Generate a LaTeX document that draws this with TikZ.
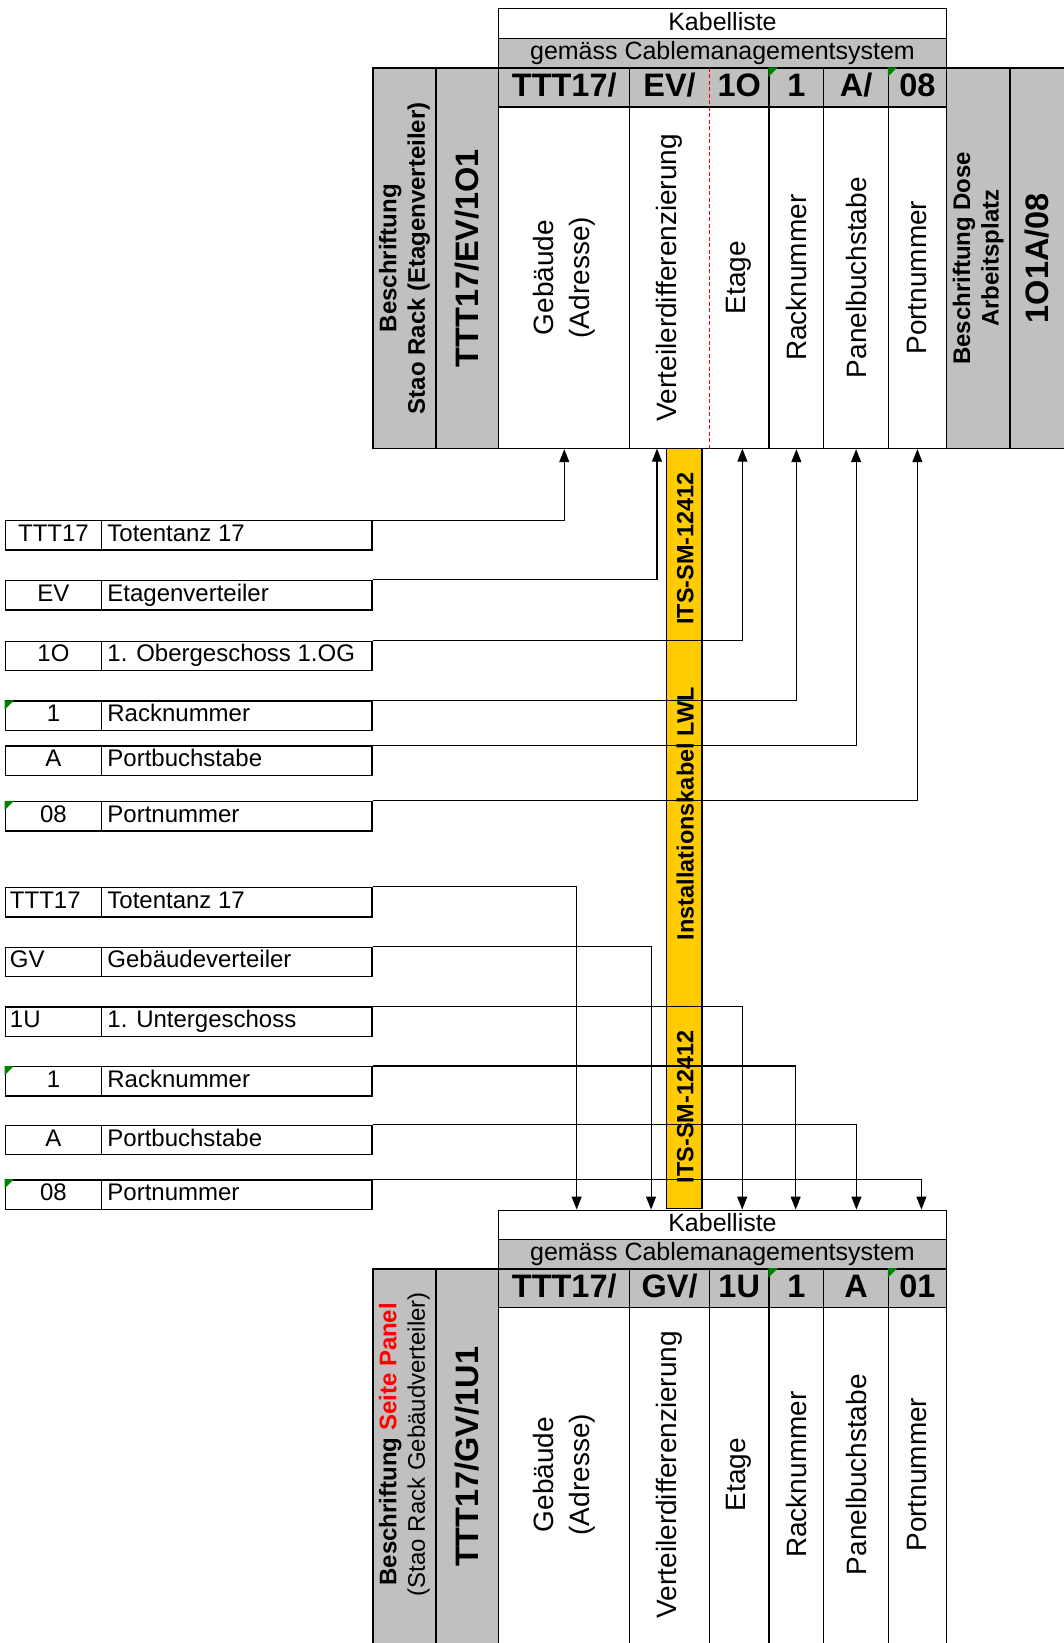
\documentclass[tikz,border=0pt]{standalone}
\usepackage{fontspec}
\setmainfont{Liberation Sans}
\usetikzlibrary{arrows.meta, fit, calc}
\definecolor{cellgray}{HTML}{C0C0C0}
\definecolor{cableyel}{HTML}{FFCC00}
\definecolor{markgreen}{HTML}{008000}
\definecolor{panelred}{HTML}{FF0000}

\newcommand{\cellfont}{\fontsize{24}{28}\selectfont}
\newcommand{\topfont}{\fontsize{25}{28}\selectfont}
\newcommand{\colfont}{\fontsize{28}{36}\selectfont}
\newcommand{\headfont}{\fontsize{32.5}{36}\selectfont\bfseries}
\newcommand{\sidefont}{\fontsize{24}{28.5}\selectfont}
\newcommand{\barfont}{\fontsize{23.5}{26}\selectfont\bfseries}

\tikzset{
  cell/.style={draw=black, line width=1.4pt, inner sep=0pt},
  graycell/.style={cell, fill=cellgray},
  plaincell/.style={fill=cellgray, inner sep=0pt},
  rowtext/.style={inner sep=0pt, font=\cellfont, text height=17pt, text depth=5pt},
  toptext/.style={inner sep=0pt, font=\topfont, text height=18pt, text depth=5pt},
  headtext/.style={inner sep=0pt, font=\headfont, text height=23.5pt, text depth=6pt},
  coltext/.style={rotate=90, align=center, inner sep=0pt, font=\colfont},
  sidetext/.style={rotate=90, align=center, inner sep=0pt, font=\sidefont},
  bigtext/.style={rotate=90, inner sep=0pt, font=\headfont},
  bartext/.style={rotate=90, inner sep=0pt, font=\barfont},
  link/.style={line width=1.1pt, -{Triangle[length=13pt,width=10pt]}},
  greenflag/.style={fill=markgreen}
}

\begin{document}
\begin{tikzpicture}[x=1.0483pt, y=-1.0483pt]
\path[use as bounding box, fill=white] (0,0) rectangle (1015,1568);

% upper cable list
\node[cell, fit={(476,8)(903,37)}] (tKab) {};
\node[toptext] (tKabT) at (tKab) {Kabelliste};
\node[graycell, fit={(476,37)(903,65)}] (tGem) {};
\node[toptext] (tGemT) at (tGem) {gemäss Cablemanagementsystem};
\node[graycell, fit={(356,65)(416,428)}] (tBes) {};
\node[sidetext, font=\sidefont\bfseries] (tBesT) at (tBes) {Beschriftung\\Stao Rack (Etagenverteiler)};
\node[graycell, fit={(416,65)(476,428)}] (tRack) {};
\node[bigtext] (tRackT) at (tRack) {TTT17/EV/1O1};

\node[graycell, fit={(476,65)(601,102)}] (tH1) {};
\node[plaincell, fit={(601,65)(677,102)}] (tH2) {};
\node[plaincell, fit={(677,65)(734,102)}] (tH3) {};
\node[graycell, fit={(734,65)(786,102)}] (tH4) {};
\node[graycell, fit={(786,65)(848,102)}] (tH5) {};
\node[graycell, fit={(848,65)(903,102)}] (tH6) {};

\node[cell, fit={(476,102)(601,428)}] (tB1) {};
\node[inner sep=0pt, fit={(601,102)(677,428)}] (tB2) {};
\node[inner sep=0pt, fit={(677,102)(734,428)}] (tB3) {};
\node[cell, fit={(734,102)(786,428)}] (tB4) {};
\node[cell, fit={(786,102)(848,428)}] (tB5) {};
\node[cell, fit={(848,102)(903,428)}] (tB6) {};
\draw[line width=1.4pt] (tH2.north west) rectangle (tB3.south east);
\draw[line width=1.4pt] (tH2.south west) -- (tH3.south east);
\draw[panelred, line width=1.2pt, dash pattern=on 4pt off 2.5pt] (tH3.north west) -- (tB3.south west);

\node[headtext] (tH1T) at (tH1) {TTT17/};
\node[headtext] (tH2T) at (tH2) {EV/};
\node[headtext] (tH3T) at (tH3) {1O};
\node[headtext] (tH4T) at (tH4) {1};
\node[headtext] (tH5T) at (tH5) {A/};
\node[headtext] (tH6T) at (tH6) {08};

\node[coltext] (tB1T) at (tB1) {Gebäude\\(Adresse)};
\node[coltext] (tB2T) at (tB2) {Verteilerdifferenzierung};
\node[coltext] (tB3T) at (tB3) {Etage};
\node[coltext] (tB4T) at (tB4) {Racknummer};
\node[coltext] (tB5T) at (tB5) {Panelbuchstabe};
\node[coltext] (tB6T) at (tB6) {Portnummer};

\node[graycell, fit={(903,65)(964,428)}] (tDose) {};
\node[sidetext, font=\sidefont\bfseries] (tDoseT) at (tDose) {Beschriftung Dose\\Arbeitsplatz};
\node[graycell, fit={(964,65)(1030,428)}] (tWs) {};
\node[bigtext] (tWsT) at ($(tWs.west)+(26,0)$) {1O1A/08};

\fill[greenflag] (tH4.north west) -- ++(9,0) -- ++(-9,9) -- cycle;
\fill[greenflag] (tH6.north west) -- ++(9,0) -- ++(-9,9) -- cycle;

% lower cable list
\node[cell, fit={(476,1155)(903,1183)}] (bKab) {};
\node[toptext] (bKabT) at (bKab) {Kabelliste};
\node[graycell, fit={(476,1183)(903,1211)}] (bGem) {};
\node[toptext] (bGemT) at (bGem) {gemäss Cablemanagementsystem};
\node[graycell, fit={(356,1211)(416,1580)}] (bBes) {};
\node[sidetext] (bBesT) at ($(bBes.north)+(0,168)$) {\textbf{Beschriftung \textcolor{panelred}{Seite Panel}}\\(Stao Rack Gebäudverteiler)};
\node[graycell, fit={(416,1211)(476,1580)}] (bRack) {};
\node[bigtext] (bRackT) at ($(bRack.north)+(0,180)$) {TTT17/GV/1U1};

\foreach \xa/\xb/\lab [count=\i] in {476/601/{TTT17/}, 601/677/{GV/}, 677/734/1U, 734/786/1, 786/848/A, 848/903/01} {
  \node[graycell, fit={(\xa,1211)(\xb,1248)}] (bH\i) {};
  \node[headtext] (bH\i T) at (bH\i) {\lab};
  \node[cell, fit={(\xa,1248)(\xb,1580)}] (bB\i) {};
}
\node[coltext] (bB1T) at ($(bB1.north)+(0,160)$) {Gebäude\\(Adresse)};
\node[coltext] (bB2T) at ($(bB2.north)+(0,160)$) {Verteilerdifferenzierung};
\node[coltext] (bB3T) at ($(bB3.north)+(0,160)$) {Etage};
\node[coltext] (bB4T) at ($(bB4.north)+(0,160)$) {Racknummer};
\node[coltext] (bB5T) at ($(bB5.north)+(0,160)$) {Panelbuchstabe};
\node[coltext] (bB6T) at ($(bB6.north)+(0,160)$) {Portnummer};

\fill[greenflag] (bH4.north west) -- ++(9,0) -- ++(-9,9) -- cycle;
\fill[greenflag] (bH6.north west) -- ++(9,0) -- ++(-9,9) -- cycle;

% cable
\node[cell, fill=cableyel, line width=1.2pt, fit={(636,428)(670,1153)}] (bar) {};
\node[bartext] (barT1) at ($(bar.north)+(1,96)$) {ITS-SM-12412};
\node[bartext] (barT2) at ($(bar.north)+(1,349)$) {Installationskabel LWL};
\node[bartext] (barT3) at ($(bar.north)+(1,629)$) {ITS-SM-12412};

% upper legend
\foreach \y/\code/\desc [count=\i] in {497/TTT17/Totentanz 17, 554/EV/Etagenverteiler, 612/1O/1. Obergeschoss 1.OG, 669/1/Racknummer, 712/A/Portbuchstabe, 765/08/Portnummer} {
  \node[cell, fit={(5,\y)(97,\y+28)}] (uc\i) {};
  \node[rowtext] (uc\i T) at (uc\i) {\code};
  \node[cell, fit={(97,\y)(355,\y+28)}] (ud\i) {};
  \node[rowtext, anchor=west] (ud\i T) at ($(ud\i.west)+(6,0)$) {\desc};
}
\fill[greenflag] (uc4.north west) -- ++(9,0) -- ++(-9,9) -- cycle;
\fill[greenflag] (uc6.north west) -- ++(9,0) -- ++(-9,9) -- cycle;

% lower legend
\foreach \y/\desc [count=\i] in {847/Totentanz 17, 904/Gebäudeverteiler, 961/1. Untergeschoss, 1018/Racknummer, 1074/Portbuchstabe, 1126/Portnummer} {
  \node[cell, fit={(5,\y)(97,\y+28)}] (lc\i) {};
  \node[cell, fit={(97,\y)(355,\y+28)}] (ld\i) {};
  \node[rowtext, anchor=west] (ld\i T) at ($(ld\i.west)+(6,0)$) {\desc};
}
\node[rowtext, anchor=west] (lc1T) at ($(lc1.west)+(5,0)$) {TTT17};
\node[rowtext, anchor=west] (lc2T) at ($(lc2.west)+(5,0)$) {GV};
\node[rowtext, anchor=west] (lc3T) at ($(lc3.west)+(5,0)$) {1U};
\node[rowtext] (lc4T) at (lc4) {1};
\node[rowtext] (lc5T) at (lc5) {A};
\node[rowtext] (lc6T) at (lc6) {08};
\fill[greenflag] (lc4.north west) -- ++(9,0) -- ++(-9,9) -- cycle;
\fill[greenflag] (lc6.north west) -- ++(9,0) -- ++(-9,9) -- cycle;

% connectors
\draw[link] (ud1.north east) -| (tB1.south);
\draw[link] (ud2.north east) -| ($(tB2.south)+(-12,0)$);
\draw[link] (ud3.north east) -| ($(tB3.south)+(3,0)$);
\draw[link] (ud4.north east) -| (tB4.south);
\draw[link] (ud5.north east) -| (tB5.south);
\draw[link] (ud6.north east) -| (tB6.south);

\draw[link] (ld1.north east) -| ($(bKab.north west)+(75,0)$);
\draw[link] (ld2.north east) -| ($(bKab.north west)+(146,0)$);
\draw[link] (ld3.north east) -| ($(bKab.north west)+(233,0)$);
\draw[link] (ld4.north east) -| ($(bKab.north west)+(284,0)$);
\draw[link] (ld5.north east) -| ($(bKab.north west)+(342,0)$);
\draw[link] (ld6.north east) -| ($(bKab.north west)+(404,0)$);
\end{tikzpicture}
\end{document}
